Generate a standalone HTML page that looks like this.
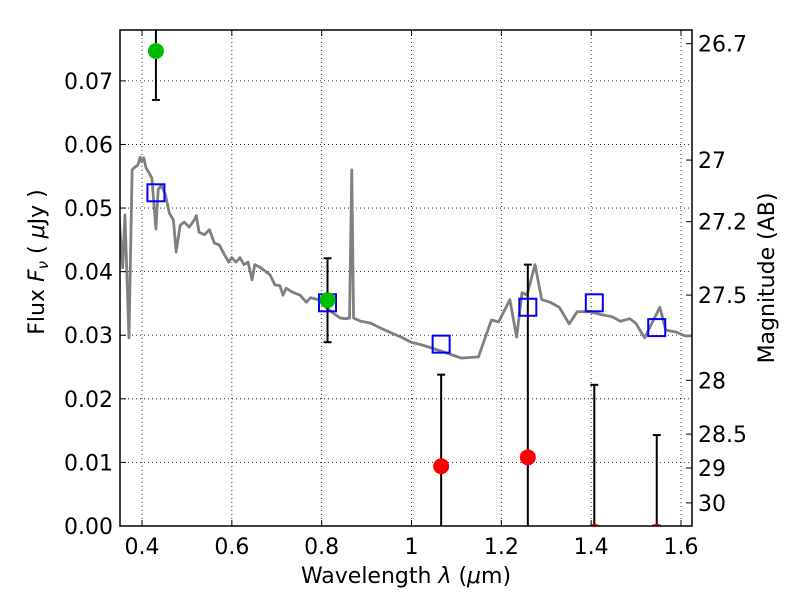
<!DOCTYPE html>
<html><head><meta charset="utf-8"><style>
html,body{margin:0;padding:0;background:#fff;width:800px;height:600px;overflow:hidden;}
svg{display:block;font-family:"DejaVu Sans","Liberation Sans",sans-serif;}
</style></head><body>
<div style="position:relative;width:800px;height:600px;overflow:hidden;">
<svg id="chart" width="800" height="600" style="position:absolute;left:0;top:0;"></svg>
<svg width="800" height="600" style="position:absolute;left:0;top:0;pointer-events:none;font-family:'DejaVu Sans','Liberation Sans',sans-serif;">
<text x="406" y="583" font-size="22" text-anchor="middle">Wavelength  <tspan font-style="italic">λ</tspan> (<tspan font-style="italic">μ</tspan>m)</text>
<text transform="translate(44,262) rotate(-90)" font-size="22" text-anchor="middle">Flux  <tspan font-style="italic">F</tspan><tspan font-style="italic" font-size="15" dy="4">ν</tspan><tspan dy="-4">  (  </tspan><tspan font-style="italic">μ</tspan>Jy )</text>
<text transform="translate(774,278) rotate(-90)" font-size="22" text-anchor="middle">Magnitude (AB)</text>
</svg>
</div>
<script>
const specLam=[0.348,0.357,0.362,0.371,0.378,0.382,0.391,0.396,0.400,0.404,0.409,0.416,0.422,0.431,0.436,0.443,0.452,0.461,0.470,0.476,0.485,0.494,0.505,0.516,0.521,0.527,0.539,0.550,0.561,0.572,0.584,0.593,0.600,0.609,0.618,0.627,0.636,0.645,0.651,0.662,0.674,0.685,0.696,0.707,0.714,0.721,0.734,0.752,0.766,0.775,0.793,0.811,0.831,0.842,0.853,0.862,0.867,0.871,0.887,0.909,0.932,0.954,0.977,0.999,1.022,1.066,1.111,1.149,1.178,1.194,1.219,1.234,1.246,1.257,1.275,1.290,1.308,1.329,1.351,1.369,1.396,1.425,1.447,1.465,1.486,1.499,1.519,1.553,1.566,1.589,1.609,1.631];
const specFlux=[0.0497,0.0406,0.0489,0.0296,0.0560,0.0563,0.0568,0.0580,0.0573,0.0579,0.0563,0.0555,0.0547,0.0467,0.0529,0.0536,0.0521,0.0492,0.0481,0.0431,0.0473,0.0478,0.0470,0.0481,0.0488,0.0462,0.0458,0.0466,0.0445,0.0442,0.0426,0.0415,0.0422,0.0415,0.0422,0.0411,0.0415,0.0387,0.0411,0.0407,0.0401,0.0395,0.0379,0.0378,0.0363,0.0374,0.0368,0.0363,0.0352,0.0359,0.0356,0.0343,0.0332,0.0327,0.0326,0.0327,0.0560,0.0327,0.0322,0.0319,0.0311,0.0304,0.0297,0.0289,0.0285,0.0275,0.0264,0.0266,0.0324,0.0321,0.0356,0.0297,0.0367,0.0363,0.0411,0.0356,0.0352,0.0344,0.0318,0.0337,0.0337,0.0332,0.0329,0.0322,0.0326,0.0319,0.0296,0.0344,0.0308,0.0305,0.0299,0.0299];
const modelLam=[0.431,0.813,1.066,1.259,1.407,1.546];
const modelFlux=[0.0524,0.0351,0.0286,0.0344,0.0351,0.0312];
const detLam=[0.431,0.813];
const detFlux=[0.0747,0.0355];
const detErr=[0.0077,0.0066];
const ndLam=[1.066,1.259,1.407,1.546];
const ndFlux=[0.0094,0.0108,-0.0009,-0.0009];
const ndErr=[0.0144,0.0303,0.0231,0.0152];
const xTicks=[0.4,0.6,0.8,1.0,1.2,1.4,1.6];
const xTickLabels=["0.4","0.6","0.8","1","1.2","1.4","1.6"];
const yTicks=[0,0.01,0.02,0.03,0.04,0.05,0.06,0.07];
const yTickLabels=["0.00","0.01","0.02","0.03","0.04","0.05","0.06","0.07"];
const magTicks=[26.7,27,27.2,27.5,28,28.5,29,30];
const magTickLabels=["26.7","27","27.2","27.5","28","28.5","29","30"];

const L=120,R=692,T=30,B=526;
const xmin=0.351,xmax=1.6245,ymin=0,ymax=0.078;
const X=v=>L+(v-xmin)/(xmax-xmin)*(R-L);
const Y=v=>B-(v-ymin)/(ymax-ymin)*(B-T);
const NS="http://www.w3.org/2000/svg";
const svg=document.getElementById('chart');
function mk(tag,attrs,parent){const e=document.createElementNS(NS,tag);for(const k in attrs)e.setAttribute(k,attrs[k]);(parent||svg).appendChild(e);return e;}

const defs=mk('defs',{});
const cp=mk('clipPath',{id:'clip'},defs);
mk('rect',{x:L,y:T,width:R-L,height:B-T},cp);

xTicks.forEach(t=>{const g=mk('line',{x1:X(t),x2:X(t),y1:T,y2:B,stroke:'#000','stroke-width':0.8,'stroke-dasharray':'1,3'});

});
yTicks.forEach(t=>{const g=mk('line',{x1:L,x2:R,y1:Y(t),y2:Y(t),stroke:'#000','stroke-width':0.8,'stroke-dasharray':'1,3'});

});

const plot=mk('g',{'clip-path':'url(#clip)'});


const sp=mk('polyline',{points:specLam.map((l,i)=>X(l)+','+Y(specFlux[i])).join(' '),fill:'none',stroke:'#808080','stroke-width':2.8,'stroke-linejoin':'round'},plot);



function errbar(l,f,e,name){
  const g=mk('g',{},plot);
  
  
  const x=X(l),raw=f-e,lo=Math.max(raw,ymin-0.002);
  mk('line',{x1:x,x2:x,y1:Y(Math.min(f+e,ymax+0.002)),y2:Y(lo),stroke:'#000','stroke-width':2},g);
  if(f+e<ymax) mk('line',{x1:x-4,x2:x+4,y1:Y(f+e),y2:Y(f+e),stroke:'#000','stroke-width':2},g);
  if(raw>ymin) mk('line',{x1:x-4,x2:x+4,y1:Y(lo),y2:Y(lo),stroke:'#000','stroke-width':2},g);
}
detLam.forEach((l,i)=>errbar(l,detFlux[i],detErr[i],'detection-errorbar'));
ndLam.forEach((l,i)=>errbar(l,ndFlux[i],ndErr[i],'nondetection-errorbar'));

modelLam.forEach((l,i)=>{const r=mk('rect',{x:X(l)-8.5,y:Y(modelFlux[i])-8.5,width:17,height:17,fill:'none',stroke:'#0000ff','stroke-width':2},plot);

});
detLam.forEach((l,i)=>{const c=mk('circle',{cx:X(l),cy:Y(detFlux[i]),r:8,fill:'#00bb00'},plot);

});
ndLam.forEach((l,i)=>{const c=mk('circle',{cx:X(l),cy:Y(ndFlux[i]),r:8,fill:'#ff0000'},plot);

});

const fr=mk('rect',{x:L,y:T,width:R-L,height:B-T,fill:'none',stroke:'#000','stroke-width':1.5});



xTicks.forEach((t,i)=>{
  mk('line',{x1:X(t),x2:X(t),y1:B,y2:B-6,stroke:'#000'});
  mk('line',{x1:X(t),x2:X(t),y1:T,y2:T+6,stroke:'#000'});
  const tx=mk('text',{x:X(t),y:B+28,'font-size':22,'text-anchor':'middle'});
  tx.textContent=xTickLabels[i];
  
  
});
yTicks.forEach((t,i)=>{
  mk('line',{x1:L,x2:L+6,y1:Y(t),y2:Y(t),stroke:'#000'});
  const tx=mk('text',{x:L-7,y:Y(t)+8,'font-size':22,'text-anchor':'end'});
  tx.textContent=yTickLabels[i];
  
  
});
magTicks.forEach((m,i)=>{
  const y=Y(Math.pow(10,(23.9-m)/2.5));
  mk('line',{x1:R,x2:R-6,y1:y,y2:y,stroke:'#000'});
  const tx=mk('text',{x:R+6,y:y+8,'font-size':22});
  tx.textContent=magTickLabels[i];
  
  
});
</script>
</body></html>
